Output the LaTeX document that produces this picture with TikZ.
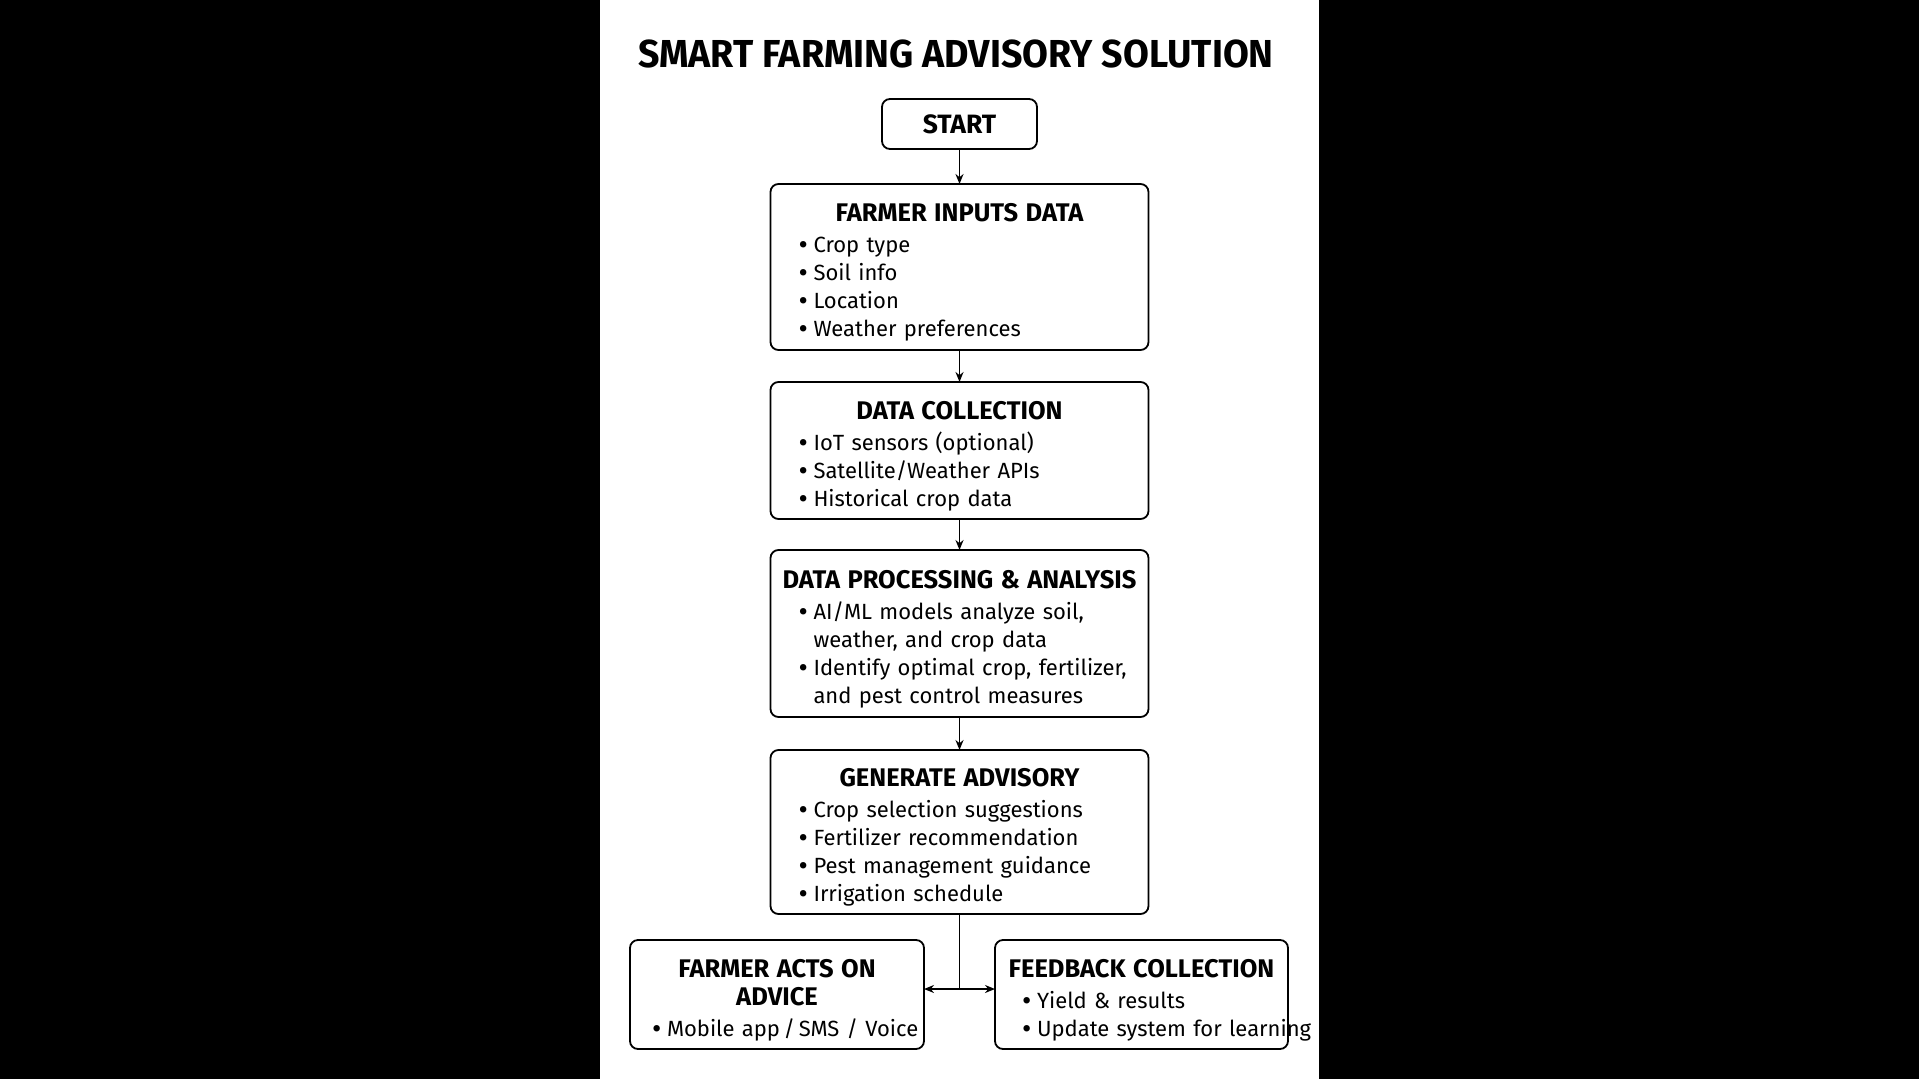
\documentclass[tikz,border=0pt]{standalone}
\usepackage{graphicx}
\usepackage{fontspec}
\setmainfont{Fira Sans}
\usetikzlibrary{positioning,arrows.meta}

\newcommand{\hd}[1]{\vskip1pt\noindent\makebox[\hsize]{\fontsize{25.5}{28}\selectfont\bfseries #1}\par}
\newcommand{\bl}[1]{\noindent\makebox[15pt][l]{\raisebox{-0.09em}{\scalebox{1.3}{\textbullet}}}\mbox{#1}\par}
\newcommand{\bc}[1]{\noindent\hspace*{15pt}\mbox{#1}\par}

\begin{document}
\begin{tikzpicture}[x=1pt, y=-1pt, node distance={33pt}, line width=1.8pt,
    >={Stealth[length=10pt,width=8pt]},
    main/.style = {draw, rounded corners=8pt, outer sep=0pt, minimum width=378pt, text width=322pt, inner sep=0pt, font=\fontsize{22}{28}\selectfont},
    term/.style = {draw, rounded corners=8pt, outer sep=0pt, minimum width=155pt, minimum height=50pt, font=\fontsize{26.5}{28}\selectfont\bfseries},
    side/.style = {draw, rounded corners=8pt, outer sep=0pt, minimum height=109pt, inner sep=0pt, font=\fontsize{22}{28}\selectfont}]
    \fill[black] (0,0) rectangle (1919,1079);
    \fill[white] (600,0) rectangle (1319,1079);

    \node[font=\fontsize{37.5}{40}\selectfont\bfseries] (0) at (956,54) {\scalebox{1}[1.04]{SMART FARMING ADVISORY SOLUTION}};
    \node[term] (1) at (959.5,124) {START};
    \node[main, minimum height=166pt] (2) [below=35pt of 1] {\hd{FARMER INPUTS DATA}\vskip3pt
        \bl{Crop type}\bl{Soil info}\bl{Location}\bl{Weather preferences}};
    \node[main, minimum height=137pt] (3) [below=32pt of 2] {\hd{DATA COLLECTION}\vskip3pt
        \bl{IoT sensors (optional)}\bl{Satellite/Weather APIs}\bl{Historical crop data}};
    \node[main, minimum height=167pt] (4) [below=31pt of 3] {\hd{DATA PROCESSING \& ANALYSIS}\vskip3pt
        \bl{AI/ML models analyze soil,}\bc{weather, and crop data}
        \bl{Identify optimal crop, fertilizer,}\bc{and pest control measures}};
    \node[main, minimum height=164pt] (5) [below=33pt of 4] {\hd{GENERATE ADVISORY}\vskip3pt
        \bl{Crop selection suggestions}\bl{Fertilizer recommendation}\bl{Pest management guidance}\bl{Irrigation schedule}};
    \node[side, minimum width=294pt, text width=250pt, anchor=north] (6) at (777,940) {\hd{FARMER ACTS ON}\vskip-1pt\hd{ADVICE}\vskip3pt
        \bl{Mobile app\,/\,SMS / Voice}};
    \node[side, minimum width=293pt, text width=239pt, anchor=north] (7) at (1141.5,940) {\hd{FEEDBACK COLLECTION}\vskip3pt
        \bl{Yield \& results}\bl{Update system for learning}};
    \coordinate[below=75pt of 5.south] (s);

    \draw[->] (1) -- (2);
    \draw[->] (2) -- (3);
    \draw[->] (3) -- (4);
    \draw[->] (4) -- (5);
    \draw (5) -- (s);
    \draw[->] (s) -- (s -| 6.east);
    \draw[->] (s) -- (s -| 7.west);
\end{tikzpicture}
\end{document}
